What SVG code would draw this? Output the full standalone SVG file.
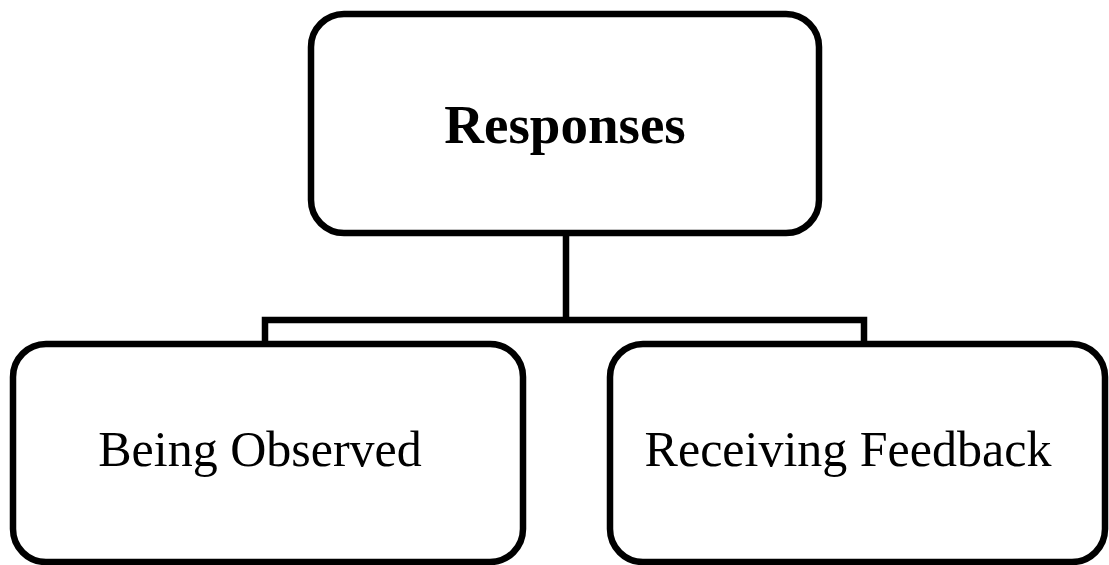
<svg xmlns="http://www.w3.org/2000/svg" width="1109" height="565" viewBox="0 0 1109 565">
<style>
.box{fill:#fff;stroke:#000;stroke-width:6.5}
.conn{fill:none;stroke:#000;stroke-width:6.5;stroke-linejoin:miter;stroke-linecap:square}
.t{font-family:"Liberation Serif","Times New Roman",serif;fill:#000;text-anchor:middle}
</style>
<rect width="1109" height="565" fill="#fff"/>
<g id="connectors">
<path class="conn" d="M566,233 V320 M265,344 V320 H864 V344"/>
</g>
<g id="responses">
<rect class="box" x="311" y="14" width="508" height="219" rx="33"/>
<text class="t" x="565" y="143" font-size="55" font-weight="bold">Responses</text>
</g>
<g id="being-observed">
<rect class="box" x="13" y="344" width="510" height="218" rx="33"/>
<text class="t" x="260" y="466" font-size="50">Being Observed</text>
</g>
<g id="receiving-feedback">
<rect class="box" x="610" y="344" width="495" height="218" rx="33"/>
<text class="t" x="848" y="466" font-size="50">Receiving Feedback</text>
</g>
</svg>
